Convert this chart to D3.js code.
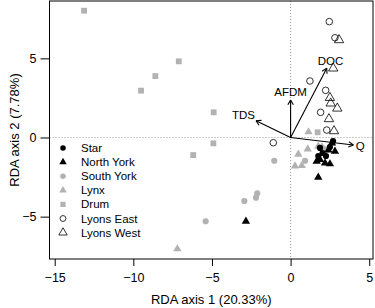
<!DOCTYPE html>
<html><head><meta charset="utf-8">
<script src="https://cdn.jsdelivr.net/npm/d3@7"></script>
<style>body{margin:0;background:#fff}svg{display:block}text{font-family:"Liberation Sans",Arial,sans-serif;fill:#000}</style>
</head><body><svg id="c" width="375" height="308"></svg>
<script>
// ---- data ----
const groups = ["Star","North York","South York","Lynx","Drum","Lyons East","Lyons West"];
const star = [[1.87,-0.66],[2.70,-0.22],[1.76,-1.17],[2.03,-0.98],[2.25,-1.17],[2.50,-0.60]];
const northYork = [[-2.84,-5.29],[1.76,-2.51],[2.82,-0.87],[2.40,-0.79],[1.87,-1.40],[1.66,-1.50],[2.19,-1.61],[2.50,-1.67],[2.63,-0.35]];
const southYork = [[-1.04,-1.47],[0.92,-1.47],[-2.12,-3.52],[-2.20,-3.80],[-2.94,-4.01],[-5.40,-5.29],[2.30,-0.77],[2.06,-0.69]];
const lynx = [[-7.20,-7.04],[1.14,0.35],[0.49,-1.06],[1.09,-0.73],[0.28,-1.80],[0.71,-1.78],[1.76,-0.56],[2.00,-0.60]];
const drum = [[-13.13,8.01],[-9.51,2.96],[-8.60,3.88],[-7.11,4.81],[-4.89,1.59],[-4.91,-0.37],[-6.19,-1.11],[1.72,0.33]];
const lyonsEast = [[2.46,7.32],[2.82,6.30],[1.23,3.57],[2.23,2.98],[1.91,1.59],[2.30,0.47],[-1.10,-0.33]];
const lyonsWest = [[3.08,6.16],[2.71,4.37],[2.50,2.51],[2.55,2.16],[2.97,1.84],[2.44,1.17],[2.76,0.41]];
const envVars = ["TDS","AFDM","DOC","Q"];
const envX = [-2.20, 0.00, 2.30, 3.99];
const envY = [1.06, 2.37, 4.37, -0.47];
const xTicks = [-15,-10,-5,0,5];
const yTicks = [-5,0,5];
const xTitle = "RDA axis 1 (20.33%)";
const yTitle = "RDA axis 2 (7.78%)";

// ---- drawing ----
const svg = d3.select("#c");
const L = 49.5, R = 373, T = 1, B = 259;
const x = d3.scaleLinear().domain([-15.33, 5.24]).range([L, R]);
const y = d3.scaleLinear().domain([-7.675, 8.623]).range([B, T]);
const GRAY = "#b2b2b2";

// zero lines
svg.append("line").attr("x1",x(0)).attr("x2",x(0)).attr("y1",T).attr("y2",B)
  .attr("stroke","#9a9a9a").attr("stroke-width",1).attr("stroke-dasharray","1,2");
svg.append("line").attr("x1",L).attr("x2",R).attr("y1",y(0)).attr("y2",y(0))
  .attr("stroke","#9a9a9a").attr("stroke-width",1).attr("stroke-dasharray","1,2");

// axes
const fmt = d => d < 0 ? "\u2212" + Math.abs(d) : String(d);
const ax = svg.append("g").attr("transform",`translate(0,${B})`)
  .call(d3.axisBottom(x).tickValues(xTicks).tickSize(7).tickPadding(4).tickFormat(fmt));
const ay = svg.append("g").attr("transform",`translate(${L},0)`)
  .call(d3.axisLeft(y).tickValues(yTicks).tickSize(9).tickPadding(4).tickFormat(fmt));
[ax,ay].forEach(a=>{a.select(".domain").remove();
  a.selectAll("text").attr("font-size",12.5).attr("font-family","Liberation Sans, Arial, sans-serif").attr("fill","#000");
  a.selectAll("line").attr("stroke","#000");});
ax.selectAll("text").attr("dy","0.95em");

svg.append("text").attr("x",(L+R)/2).attr("y",304).attr("text-anchor","middle")
  .attr("font-size",13).text(xTitle);
svg.append("text").attr("transform",`translate(19,${(T+B)/2}) rotate(-90)`)
  .attr("text-anchor","middle").attr("font-size",13).text(yTitle);

// symbols
const styles = {
  "Star":       {type:d3.symbolCircle,  size:30, fill:"#000", stroke:"none"},
  "North York": {type:d3.symbolTriangle,size:30, fill:"#000", stroke:"none"},
  "South York": {type:d3.symbolCircle,  size:30, fill:GRAY, stroke:"none"},
  "Lynx":       {type:d3.symbolTriangle,size:30, fill:GRAY, stroke:"none"},
  "Drum":       {type:d3.symbolSquare,  size:34, fill:GRAY, stroke:"none"},
  "Lyons East": {type:d3.symbolCircle,  size:34, fill:"none", stroke:"#000"},
  "Lyons West": {type:d3.symbolTriangle,size:38, fill:"none", stroke:"#000"}
};
const dataBy = {"Star":star,"North York":northYork,"South York":southYork,"Lynx":lynx,
  "Drum":drum,"Lyons East":lyonsEast,"Lyons West":lyonsWest};
const order = ["Drum","Lynx","South York","Lyons East","Lyons West","Star","North York"];
order.forEach(g=>{
  const s = styles[g];
  svg.append("g").selectAll("path").data(dataBy[g]).join("path")
    .attr("transform",d=>`translate(${x(d[0])},${y(d[1])})`)
    .attr("d",d3.symbol(s.type,s.size))
    .attr("fill",s.fill).attr("stroke",s.stroke).attr("stroke-width",0.8);
});

// arrows
const ag = svg.append("g");
envVars.forEach((v,i)=>{
  const x0=x(0), y0=y(0), x1=x(envX[i]), y1=y(envY[i]);
  const dx=x1-x0, dy=y1-y0, len=Math.hypot(dx,dy), ux=dx/len, uy=dy/len;
  ag.append("line").attr("x1",x0).attr("y1",y0).attr("x2",x1).attr("y2",y1)
    .attr("stroke","#000").attr("stroke-width",1.1);
  const hl=5.5, a=Math.PI/6;
  [a,-a].forEach(t=>{
    const c=Math.cos(t), s=Math.sin(t);
    const hx=-(ux*c - uy*s), hy=-(ux*s + uy*c);
    ag.append("line").attr("x1",x1).attr("y1",y1).attr("x2",x1+hx*hl).attr("y2",y1+hy*hl)
      .attr("stroke","#000").attr("stroke-width",1.1);
  });
  const t = ag.append("text").attr("font-size",11.5).attr("text-anchor","middle")
    .attr("dominant-baseline","central").text(v);
  const w = t.node().getComputedTextLength()/2, h = 5;
  const d = Math.min(Math.abs(ux)>1e-6 ? w/Math.abs(ux) : 1e9, Math.abs(uy)>1e-6 ? h/Math.abs(uy) : 1e9) + 2.5;
  t.attr("x",x1+ux*d).attr("y",y1+uy*d);
});

// box
svg.append("rect").attr("x",L).attr("y",T).attr("width",R-L).attr("height",B-T)
  .attr("fill","none").attr("stroke","#000").attr("stroke-width",1);

// legend
const lg = svg.append("g");
groups.forEach((g,i)=>{
  const s = styles[g], yy = 148 + i*14.1;
  lg.append("path").attr("transform",`translate(63,${yy})`)
    .attr("d",d3.symbol(s.type,s.size*0.8)).attr("fill",s.fill).attr("stroke",s.stroke).attr("stroke-width",0.8);
  lg.append("text").attr("x",81).attr("y",yy).attr("dominant-baseline","central")
    .attr("font-size",11.5).text(g);
});
</script></body></html>
